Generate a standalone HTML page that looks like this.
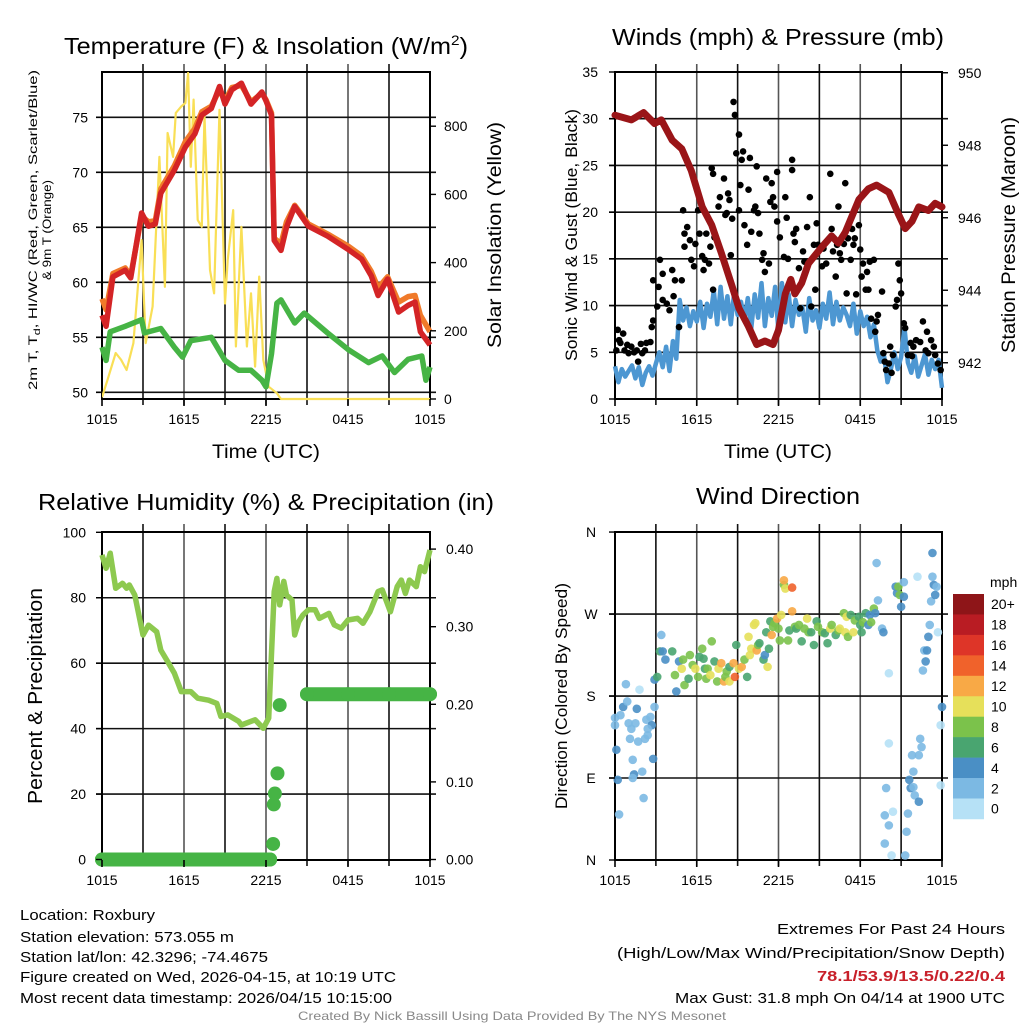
<!DOCTYPE html>
<html><head><meta charset="utf-8"><title>Station Meteogram</title>
<style>
html,body{margin:0;padding:0;background:#fff;}
svg{display:block;font-family:"Liberation Sans",sans-serif;}
</style></head>
<body>
<svg id="fig" width="1024" height="1024" viewBox="0 0 1024 1024" xmlns="http://www.w3.org/2000/svg">
<rect width="1024" height="1024" fill="#fff"/>
<g id="p1"></g>
<g id="p2"></g>
<g id="p3"></g>
<g id="p4"></g>

<text x="266" y="54" text-anchor="middle" font-size="23" textLength="404" lengthAdjust="spacingAndGlyphs">Temperature (F) &amp; Insolation (W/m<tspan font-size="14" dy="-9">2</tspan><tspan dy="9">)</tspan></text>
<text x="778" y="45" text-anchor="middle" font-size="23" textLength="332" lengthAdjust="spacingAndGlyphs">Winds (mph) &amp; Pressure (mb)</text>
<text x="266" y="510" text-anchor="middle" font-size="23" textLength="456" lengthAdjust="spacingAndGlyphs">Relative Humidity (%) &amp; Precipitation (in)</text>
<text x="778" y="504" text-anchor="middle" font-size="23" textLength="164" lengthAdjust="spacingAndGlyphs">Wind Direction</text>

<text x="266" y="458" text-anchor="middle" font-size="19" textLength="108" lengthAdjust="spacingAndGlyphs">Time (UTC)</text>
<text x="778" y="458" text-anchor="middle" font-size="19" textLength="108" lengthAdjust="spacingAndGlyphs">Time (UTC)</text>

<text transform="translate(37,230) rotate(-90)" text-anchor="middle" font-size="12" textLength="320" lengthAdjust="spacingAndGlyphs">2m T, T<tspan font-size="9" dy="3">d</tspan><tspan dy="-3">, HI/WC (Red, Green, Scarlet/Blue)</tspan></text>
<text transform="translate(51,230) rotate(-90)" text-anchor="middle" font-size="12" textLength="100" lengthAdjust="spacingAndGlyphs">&amp; 9m T (Orange)</text>
<text transform="translate(501,235) rotate(-90)" text-anchor="middle" font-size="19" textLength="226" lengthAdjust="spacingAndGlyphs">Solar Insolation (Yellow)</text>
<text transform="translate(577,235) rotate(-90)" text-anchor="middle" font-size="17" textLength="252" lengthAdjust="spacingAndGlyphs">Sonic Wind &amp; Gust (Blue, Black)</text>
<text transform="translate(1015,235) rotate(-90)" text-anchor="middle" font-size="19" textLength="236" lengthAdjust="spacingAndGlyphs">Station Pressure (Maroon)</text>
<text transform="translate(42,696) rotate(-90)" text-anchor="middle" font-size="20" textLength="216" lengthAdjust="spacingAndGlyphs">Percent &amp; Precipitation</text>
<text transform="translate(567,696) rotate(-90)" text-anchor="middle" font-size="17" textLength="226" lengthAdjust="spacingAndGlyphs">Direction (Colored By Speed)</text>

<g font-size="15">
<text x="20" y="920" textLength="135" lengthAdjust="spacingAndGlyphs">Location: Roxbury</text>
<text x="20" y="942" textLength="214" lengthAdjust="spacingAndGlyphs">Station elevation: 573.055 m</text>
<text x="20" y="962" textLength="248" lengthAdjust="spacingAndGlyphs">Station lat/lon: 42.3296; -74.4675</text>
<text x="20" y="982" textLength="376" lengthAdjust="spacingAndGlyphs">Figure created on Wed, 2026-04-15, at 10:19 UTC</text>
<text x="20" y="1003" textLength="372" lengthAdjust="spacingAndGlyphs">Most recent data timestamp: 2026/04/15 10:15:00</text>
</g>
<g font-size="15" text-anchor="end">
<text x="1005" y="934" textLength="228" lengthAdjust="spacingAndGlyphs">Extremes For Past 24 Hours</text>
<text x="1005" y="958" textLength="388" lengthAdjust="spacingAndGlyphs">(High/Low/Max Wind/Precipitation/Snow Depth)</text>
<text x="1005" y="981" font-weight="bold" fill="#c8202a" textLength="188" lengthAdjust="spacingAndGlyphs">78.1/53.9/13.5/0.22/0.4</text>
<text x="1005" y="1003" textLength="330" lengthAdjust="spacingAndGlyphs">Max Gust: 31.8 mph On 04/14 at 1900 UTC</text>
</g>
<text x="512" y="1020" text-anchor="middle" font-size="12" fill="#888" textLength="428" lengthAdjust="spacingAndGlyphs">Created By Nick Bassill Using Data Provided By The NYS Mesonet</text>
</svg>
<script>
// ---------- DATA ----------
var xTickLabels = ["1015","1615","2215","0415","1015"];
// Temperature panel
var tHr   = [0,0.3,0.8,1.7,2.1,2.9,3.4,3.9,4.3,5.3,6.1,6.8,7.3,8.0,8.6,9.0,9.5,10.2,10.9,11.7,12.0,12.4,12.6,13.1,13.5,14.1,15.1,16.5,18.0,19.0,19.7,20.2,20.9,21.7,22.4,22.9,23.3,24];
var tempRed = [57.0,56.0,60.5,61.1,60.4,66.3,65.1,65.3,68.1,70.2,72.3,73.5,75.2,75.8,77.8,76.2,77.5,78.1,76.2,77.3,76.5,75.2,63.8,62.9,65.0,66.9,65.1,64.2,63.0,62.1,60.6,58.8,60.3,57.3,57.9,58.2,55.5,54.3];
var temp9m  = [58.5,57.5,60.8,61.3,60.6,66.0,65.5,65.6,68.5,70.6,72.8,74.0,75.5,76.0,77.5,76.5,77.7,77.9,76.4,77.2,76.6,75.4,64.0,63.5,65.5,67.0,65.3,64.4,63.3,62.4,61.0,59.5,60.5,58.2,58.7,58.8,57.0,55.5];
var dHr = [0,0.3,0.6,1.7,2.9,3.1,4.3,5.3,5.9,6.5,8.0,9.0,10.0,10.9,11.7,12.0,12.4,12.8,13.1,14.1,14.8,16.5,18.0,19.5,20.5,21.4,22.4,23.4,23.7,24];
var dewpt = [54.1,52.9,55.5,56.0,56.6,55.4,55.8,54.1,53.2,54.7,55.0,52.9,52.0,52.0,51.1,50.5,53.5,58.1,58.4,56.3,57.2,55.4,53.9,52.7,53.3,51.8,53.0,53.3,51.1,52.3];
var solHr = [0,0.4,1.0,1.4,1.8,2.3,2.9,3.2,3.7,4.2,4.6,4.8,5.2,5.4,5.8,6.1,6.3,6.5,6.7,7.0,7.3,7.5,7.9,8.2,8.6,9.0,9.2,9.6,9.8,10.2,10.6,10.9,11.2,11.5,11.8,12.2,12.8,13.1,24];
var solar = [5,56,135,115,85,164,466,164,271,710,329,780,710,839,858,868,956,681,878,525,505,830,378,310,848,280,408,554,154,505,154,310,95,359,115,36,17,0,0];
var tempTicks = [50,55,60,65,70,75];
var solTicks = [0,200,400,600,800];
// Winds panel
var pHr = [0,1.2,2.1,2.9,3.4,4.2,4.9,5.6,6.4,7.1,7.8,8.6,9.1,9.8,10.4,11.0,11.6,12.0,12.5,12.9,13.2,13.7,14.2,15.2,15.9,16.4,16.9,17.9,18.6,19.2,20.1,20.8,21.3,21.8,22.3,23.0,23.5,24];
var pressure = [948.83,948.7,948.9,948.6,948.7,948.14,947.9,947.3,946.3,945.8,945.03,944.1,943.5,943.0,942.5,942.6,942.5,942.9,943.9,944.3,943.9,944.2,944.74,945.2,945.5,945.3,945.6,946.5,946.8,946.9,946.7,946.1,945.7,945.9,946.3,946.2,946.4,946.3];
var windSpd = [3.5,1.8,3.2,2.4,3.0,3.6,2.2,3.4,1.5,2.8,3.5,2.5,3.8,
 5.0,3.4,5.6,3.0,6.2,4.3,
 10.6,8.4,9.8,7.8,9.4,8.3,10.4,7.6,10.2,8.8,11.6,8.0,12.0,8.6,11.0,8.0,11.4,9.0,10.4,8.4,10.8,7.6,11.2,8.7,12.4,7.8,10.8,8.9,12.0,7.2,
 12.4,8.2,11.2,7.8,10.6,9.0,9.8,7.2,10.8,8.4,9.5,7.6,10.2,8.6,11.4,8.0,10.4,8.4,9.8,9.0,
 7.8,10.2,7.0,9.4,7.8,8.8,6.6,8.0,
 5.2,4.0,4.6,1.8,3.2,5.0,3.2,
 4.5,7.6,3.9,2.8,4.6,2.4,3.6,4.8,2.6,4.2,3.2,4.2,1.2];
var gustHr = [0.1,0.2,0.4,0.6,0.7,1.0,1.2,1.6,1.7,2.0,2.2,2.3,2.6,2.7,2.8,2.8,3.1,3.2,3.3,3.5,3.5,3.8,4.0,4.2,4.3,4.4,4.7,4.9,5.0,5.1,5.3,5.1,5.5,5.6,5.8,5.9,6.1,6.2,6.4,6.5,6.6,6.7,6.9,7.0,7.1,7.2,7.2,7.3,7.6,7.7,8.0,8.1,8.2,8.3,8.4,8.5,8.6,8.7,8.8,8.9,9.1,9.1,9.2,9.3,9.4,9.5,9.7,9.8,9.9,10.0,10.2,10.3,10.4,10.5,10.6,10.8,10.9,11.0,11.1,11.3,11.4,11.5,11.6,11.7,11.9,11.9,12.1,12.4,12.5,12.6,12.7,13.0,13.0,13.1,13.2,13.3,13.5,13.6,13.8,13.9,14.1,14.3,14.4,14.6,14.7,14.8,14.9,15.2,15.3,15.5,15.8,15.9,16.0,16.2,16.3,16.4,16.5,16.6,16.8,16.9,17.0,17.1,17.3,17.4,17.5,17.6,17.7,17.9,18.0,18.1,18.2,18.4,18.5,18.6,18.7,18.8,19.0,19.1,19.2,19.3,19.6,19.7,19.8,19.9,20.1,20.2,20.3,20.4,20.6,20.7,20.8,20.9,21.0,21.2,21.3,21.5,21.7,21.8,21.9,22.1,22.4,22.6,22.8,22.9,23.0,23.2,23.4,23.5,23.7,23.9,0.3,0.9,1.4,1.9];
var gustSpd = [5.2,7.4,6.0,7.0,5.2,4.9,5.6,5.2,4.0,4.9,5.2,6.0,6.1,7.7,8.4,12.7,9.9,12.0,14.9,13.4,10.6,10.2,9.5,13.8,11.0,12.7,7.7,12.7,20.2,17.7,18.4,16.3,17.0,14.9,14.2,16.6,20.2,17.7,15.3,13.8,14.9,17.7,14.5,16.3,24.7,11.7,24.1,17.3,20.6,21.6,23.6,19.7,19.9,22.0,21.3,15.4,19.3,31.8,30.4,26.3,28.3,20.2,22.9,25.6,26.5,18.6,16.5,22.4,25.8,17.9,20.2,20.6,24.9,19.9,17.7,14.9,15.6,13.6,23.6,14.5,21.1,23.1,21.6,20.6,24.3,19.0,17.3,15.2,21.6,19.4,15.0,25.6,24.5,17.7,16.8,18.2,14.0,9.7,15.8,14.7,18.4,21.6,9.9,16.5,11.7,18.8,16.5,14.2,16.1,14.5,24.1,18.2,15.8,13.1,16.5,20.6,15.6,14.9,16.6,23.1,11.3,17.2,14.9,18.2,16.5,17.2,11.2,18.6,16.0,13.1,14.5,11.7,13.6,11.7,14.7,8.6,14.9,7.2,8.3,9.0,11.5,4.9,4.0,3.1,3.8,5.6,2.8,4.7,9.9,10.6,14.5,12.7,11.3,8.1,7.6,4.7,6.0,4.6,5.6,6.3,6.1,8.3,5.2,7.2,4.9,6.3,5.6,4.7,3.8,3.1,6.3,5.8,5.0,5.9];
var windTicks = [0,5,10,15,20,25,30,35];
var presTicks = [942,944,946,948,950];
// Humidity panel
var rhHr = [0,0.3,0.6,1.0,1.5,1.8,2.0,2.4,3.0,3.4,4.0,4.3,4.8,5.3,5.8,6.5,7.0,7.8,8.4,8.7,9.2,10.0,10.2,11.2,11.8,12.2,12.6,12.8,13.0,13.3,13.5,13.9,14.1,14.4,14.7,15.1,15.6,15.9,16.6,17.0,17.5,18.0,18.7,19.1,19.6,20.2,20.5,21.1,21.6,21.9,22.2,22.5,23.0,23.3,23.6,24];
var rh = [93.1,89,93.6,82.9,84.4,82.9,83.9,80.8,68.6,71.6,69.6,64.0,60.5,56.9,51.3,51.3,49.3,48.7,47.7,43.7,44.2,42.2,41.1,42.7,40.1,43.2,81.9,85.9,77.8,85,80.8,79.3,68.6,72.7,74.7,76.3,76.3,73.7,75.2,71.7,70.7,73.2,73.7,72.2,75.7,81.9,82.4,75.7,83.4,85.4,81.3,85.4,83.4,89.5,88.0,94.6];
var prHr = [0,3,6,9,12.3,12.52,12.57,12.65,12.84,13.0,15,18,21,24];
var precip = [0,0,0,0,0,0.02,0.071,0.085,0.111,0.199,0.213,0.213,0.213,0.213];
var rhTicks = [0,20,40,60,80,100];
var prTicks = [0,0.1,0.2,0.3,0.4];
var prTickLabels = ["0.00","0.10","0.20","0.30","0.40"];
// Direction panel
var dirHr = [0,0,0.4,0.6,0.8,0.9,1.0,1.1,1.2,1.5,1.6,1.7,1.8,2.0,2.1,2.2,2.3,2.4,2.6,2.7,2.8,2.9,0.1,0.2,0.3,1.3,1.4,1.3,2.4,
 2.9,3.1,3.3,3.4,3.5,3.7,4.2,4.4,4.5,4.7,4.9,5.0,5.1,5.4,5.5,5.7,5.9,6.1,6.2,6.4,6.5,6.6,6.7,6.8,7.0,7.1,7.3,7.5,7.6,7.8,8.0,8.1,8.2,8.4,8.4,8.7,8.8,8.9,9.1,9.3,9.5,9.7,9.8,9.9,10.0,10.2,10.3,10.4,10.5,10.6,10.9,11.0,11.1,11.2,11.3,11.4,11.5,11.6,11.7,11.9,12.0,12.1,12.2,12.4,12.4,12.5,12.7,12.8,13.0,13.0,13.2,13.3,13.5,13.7,13.9,14.1,14.2,14.4,14.6,14.8,14.9,15.2,15.4,15.6,15.8,15.9,16.2,16.4,16.5,16.8,16.9,17.0,17.1,17.3,17.5,17.6,17.9,18.0,18.1,18.2,18.4,18.6,18.7,18.8,19.0,19.1,19.2,19.3,19.6,19.7,20.1,20.1,19.9,19.8,20.1,19.8,20.3,20.4,20.6,20.7,20.8,20.9,21.0,21.2,21.2,21.3,21.4,21.5,21.6,21.7,21.8,21.9,21.9,22.0,22.2,22.3,22.3,22.4,22.5,22.6,22.7,22.8,22.9,23.0,23.1,23.2,23.3,23.3,23.4,23.5,23.6,23.7,23.9,23.9,24.0];
var dirDeg = [156,148,159,168,193,174,150,133,144,150,166,130,187,97,68,133,154,137,157,148,111,168,121,88,50,110,94,90,144,
 198,201,229,247,229,220,229,203,185,218,210,220,192,199,225,214,210,201,223,232,221,210,199,210,203,240,218,196,210,216,196,201,207,196,212,216,201,236,210,212,220,201,245,225,232,258,260,230,236,238,220,225,250,212,232,262,247,256,260,265,254,241,269,302,307,298,241,252,299,273,256,254,258,240,254,265,250,250,236,262,256,250,249,238,254,258,247,252,254,271,250,267,245,269,250,263,267,258,250,261,271,258,269,261,276,271,326,285,254,250,205,128,79,49,38,18,5,53,300,293,300,291,278,305,289,5,31,51,88,79,115,97,80,71,311,64,115,133,124,208,230,218,230,245,258,284,337,311,302,291,300,250,148,82,168];
var dirSpd = [3,3,3,5,3,3,3,3,3,3,5,3,1,3,3,3,3,3,3,5,5,3,5,5,3,3,5,3,3,
 5,7,7,3,5,5,7,9,5,5,11,9,9,7,9,9,11,9,7,9,7,7,9,9,11,9,7,9,11,13,13,9,9,11,7,13,15,7,11,13,9,7,11,11,11,11,11,13,9,7,7,5,7,11,7,7,13,9,9,13,9,9,11,9,13,11,9,7,15,13,9,7,9,7,9,11,9,7,7,7,9,9,7,7,11,9,7,9,11,9,11,11,9,7,11,9,7,7,7,9,7,5,5,9,9,5,3,3,3,5,1,1,3,3,3,3,1,1,5,5,9,9,5,3,5,3,3,3,5,5,3,3,3,3,1,5,3,3,3,3,3,5,5,5,3,3,5,3,5,5,3,1,1,1,5];
var dirTicks = [0,90,180,270,360];
var dirTickLabels = ["N","E","S","W","N"];
var cbLabels = ["20+","18","16","14","12","10","8","6","4","2","0"];
var cbColors = ["#8e1518","#b91c23","#de3528","#f0622b","#f8a946","#e6e05a","#7bc24b","#49a570","#4a8fc5","#7cb9e3","#b6e1f6"];

// ---------- HELPERS ----------
var NS = "http://www.w3.org/2000/svg";
function mk(parent, tag, attrs){ var e=document.createElementNS(NS,tag); for(var k in attrs) e.setAttribute(k,attrs[k]); parent.appendChild(e); return e; }
function txt(parent, s, attrs){ var e=mk(parent,"text",attrs); e.textContent=s; return e; }
function polyPts(xs, ys, fx, fy){ var p=[]; for(var i=0;i<xs.length;i++) p.push(fx(xs[i]).toFixed(1)+","+fy(ys[i]).toFixed(1)); return p.join(" "); }

function frame(g, x0, x1, y0, y1, hTickVals, fy, name){
  for(var h=3; h<24; h+=3){
    var x = x0+(x1-x0)*h/24;
    var l = mk(g,"line",{x1:x,x2:x,y1:y0-8,y2:y1+6,stroke:(h%6===0?"#555":"#111"),"stroke-width":1.6});
    
    
  }
  for(var i=0;i<hTickVals.length;i++){
    var y = fy(hTickVals[i]);
    if(y<=y0+1 || y>=y1-1) continue;
    var gl = mk(g,"line",{x1:x0-6,x2:x1+6,y1:y,y2:y,stroke:"#111","stroke-width":1.6});
    
    
  }
  var b = mk(g,"rect",{x:x0,y:y0,width:x1-x0,height:y1-y0,fill:"none",stroke:"#000","stroke-width":2});
  
  
}
function xAxis(g, x0, x1, yb){
  for(var i=0;i<xTickLabels.length;i++){
    var x = x0+(x1-x0)*i/4;
    var tl = txt(g, xTickLabels[i], {x:x, y:yb+25, "text-anchor":"middle","font-size":14});
    
    
    mk(g,"line",{x1:x,x2:x,y1:yb,y2:yb+7,stroke:"#000","stroke-width":1.6});
  }
}
function yLabels(g, vals, labels, fy, x, anchor, tickX, tickDir, name){
  for(var i=0;i<vals.length;i++){
    var y = fy(vals[i]);
    var t = txt(g, labels[i], {x:x, y:y+5, "text-anchor":anchor, "font-size":14});
    
    
    mk(g,"line",{x1:tickX,x2:tickX+tickDir*6,y1:y,y2:y,stroke:"#000","stroke-width":1.4});
  }
}

// ---------- PANEL 1: Temperature ----------
(function(){
  var g=document.getElementById("p1");
  var x0=102,x1=430,y0=72,y1=399;
  var fx=function(h){return x0+(x1-x0)*h/24;};
  var fT=function(v){return 392.3-(v-50)*11;};
  var fS=function(v){return 399-v*0.341;};
  frame(g,x0,x1,y0,y1,tempTicks,fT,"temperature");
  var cp = mk(g,"clipPath",{id:"c1"}); mk(cp,"rect",{x:x0,y:y0-12,width:x1-x0+4,height:y1-y0+14});
  var s = mk(g,"polyline",{points:polyPts(solHr,solar,fx,fS),fill:"none",stroke:"#f9df56","stroke-width":2.2,"stroke-linejoin":"round","clip-path":"url(#c1)"});
  
  
  var o = mk(g,"polyline",{points:polyPts(tHr,temp9m,fx,fT),fill:"none",stroke:"#f07a2a","stroke-width":5.5,"stroke-linejoin":"round"});
  
  
  var r = mk(g,"polyline",{points:polyPts(tHr,tempRed,fx,fT),fill:"none",stroke:"#d42426","stroke-width":5.5,"stroke-linejoin":"round"});
  
  
  var d = mk(g,"polyline",{points:polyPts(dHr,dewpt,fx,fT),fill:"none",stroke:"#46b445","stroke-width":5.5,"stroke-linejoin":"round"});
  
  
  xAxis(g,x0,x1,y1);
  yLabels(g,tempTicks,tempTicks.map(String),fT,88,"end",x0,-1,"temperature");
  yLabels(g,solTicks,solTicks.map(String),fS,444,"start",x1,1,"insolation");
})();

// ---------- PANEL 2: Winds ----------
(function(){
  var g=document.getElementById("p2");
  var x0=615,x1=942,y0=72,y1=399;
  var fx=function(h){return x0+(x1-x0)*h/24;};
  var fW=function(v){return 399-v*9.343;};
  var fP=function(v){return 399-(v-941)*36.25;};
  frame(g,x0,x1,y0,y1,windTicks,fW,"winds");
  var wx=[]; for(var i=0;i<windSpd.length;i++) wx.push(i*0.25);
  var w = mk(g,"polyline",{points:polyPts(wx,windSpd,fx,fW),fill:"none",stroke:"#4d97d2","stroke-width":4.5,"stroke-linejoin":"round"});
  
  
  for(var j=0;j<gustHr.length;j++){
    var c = mk(g,"circle",{cx:fx(gustHr[j]),cy:fW(gustSpd[j]),r:3.3,fill:"#000"});
    
    
  }
  var p = mk(g,"polyline",{points:polyPts(pHr,pressure,fx,fP),fill:"none",stroke:"#9a1518","stroke-width":7,"stroke-linejoin":"round","stroke-linecap":"round"});
  
  
  xAxis(g,x0,x1,y1);
  yLabels(g,windTicks,windTicks.map(String),fW,598,"end",x0,-1,"wind");
  yLabels(g,presTicks,presTicks.map(String),fP,958,"start",x1,1,"pressure");
})();

// ---------- PANEL 3: Humidity ----------
(function(){
  var g=document.getElementById("p3");
  var x0=102,x1=430,y0=532,y1=860;
  var fx=function(h){return x0+(x1-x0)*h/24;};
  var fR=function(v){return 859.5-v*3.272;};
  var fPr=function(v){return 859.5-v*776;};
  frame(g,x0,x1,y0,y1,rhTicks,fR,"humidity");
  var rl = mk(g,"polyline",{points:polyPts(rhHr,rh,fx,fR),fill:"none",stroke:"#8dc94f","stroke-width":5.5,"stroke-linejoin":"round"});
  
  
  for(var i=0;i<prHr.length;i++){
    if(i<prHr.length-1 && precip[i]===precip[i+1]){
      var seg = mk(g,"line",{x1:fx(prHr[i]),y1:fPr(precip[i]),x2:fx(prHr[i+1]),y2:fPr(precip[i+1]),stroke:"#46b445","stroke-width":14,"stroke-linecap":"round"});
      
      
    }
    var c = mk(g,"circle",{cx:fx(prHr[i]),cy:fPr(precip[i]),r:7,fill:"#46b445"});
    
    
  }
  xAxis(g,x0,x1,y1);
  yLabels(g,rhTicks,rhTicks.map(String),fR,86,"end",x0,-1,"humidity");
  yLabels(g,prTicks,prTickLabels,fPr,446,"start",x1,1,"precipitation");
})();

// ---------- PANEL 4: Direction ----------
(function(){
  var g=document.getElementById("p4");
  var x0=615,x1=942,y0=532,y1=860;
  var fx=function(h){return x0+(x1-x0)*h/24;};
  var fD=function(v){return 860-v*0.911;};
  frame(g,x0,x1,y0,y1,dirTicks,fD,"direction");
  function col(s){ var b=Math.floor(s/2); if(b>10) b=10; return cbColors[10-b]; }
  for(var i=0;i<dirHr.length;i++){
    var c = mk(g,"circle",{cx:fx(dirHr[i]),cy:fD(dirDeg[i]),r:4.3,fill:col(dirSpd[i]),"fill-opacity":0.9});
    
    
  }
  xAxis(g,x0,x1,y1);
  yLabels(g,dirTicks,dirTickLabels,fD,591,"middle",x0,-1,"direction");
  var cb = mk(g,"g",{});
  
  
  var t = txt(cb,"mph",{x:990,y:587,"font-size":14});
  
  
  var h=20.45;
  for(var k=0;k<cbColors.length;k++){
    var r = mk(cb,"rect",{x:953,y:594+k*h,width:31,height:h+0.3,fill:cbColors[k]});
    
    
    var lb = txt(cb,cbLabels[k],{x:991,y:594+k*h+h/2+5,"font-size":14});
    
    
  }
})();
</script>
</body></html>
